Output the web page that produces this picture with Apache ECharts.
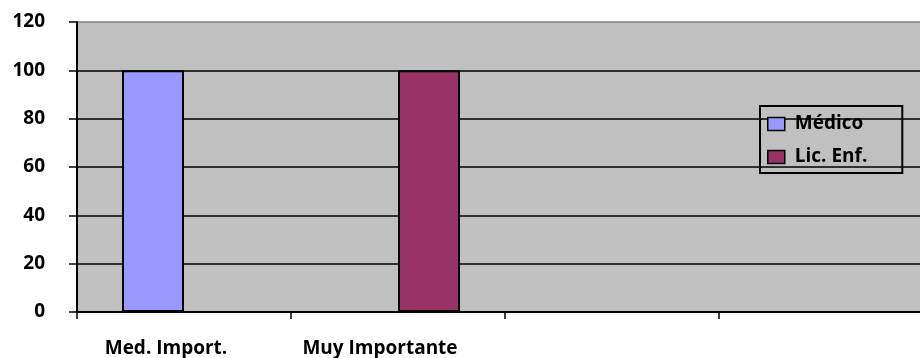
<!DOCTYPE html>
<html>
<head>
<meta charset="utf-8">
<script src="https://cdn.jsdelivr.net/npm/echarts@6/dist/echarts.min.js"></script>
<style>
  html, body { margin: 0; padding: 0; background: #fff; }
  #chart { width: 920px; height: 358px; }
</style>
</head>
<body>
<div id="chart"></div>
<script>
// Categories along the horizontal axis (the last two are unlabeled slots)
const categories = ['Med. Import.', 'Muy Importante', '', ''];
// Series values per category
const medico = [100, null, null, null];
const licEnf = [null, 100, null, null];
// Vertical axis range
const yMin = 0;
const yMax = 120;
const yStep = 20;

const FONT = 'Open Sans';
const chart = echarts.init(document.getElementById('chart'), null, { renderer: 'canvas' });

// gridlines are black, the top edge of the plot is grey
const gridColors = ['#000', '#000', '#000', '#000', '#000', '#000', '#808080'];

chart.setOption({
  animation: false,
  backgroundColor: '#ffffff',
  grid: {
    left: 77, top: 22, bottom: 46, width: 856,
    outerBoundsMode: 'none',
    containLabel: false,
    show: true,
    backgroundColor: '#c0c0c0',
    borderWidth: 0
  },
  legend: {
    orient: 'vertical',
    left: 760, top: 106,
    padding: [8, 35, 6, 7],
    borderColor: '#000',
    borderWidth: 2,
    borderRadius: 0,
    itemWidth: 17, itemHeight: 13,
    itemGap: 13,
    icon: 'rect',
    itemStyle: { borderColor: '#000', borderWidth: 1.5 },
    textStyle: { fontFamily: FONT, fontWeight: 'bold', fontSize: 19, color: '#000', lineHeight: 20, padding: [0, 0, 0, 5] },
    data: ['Médico', 'Lic. Enf.']
  },
  xAxis: {
    type: 'category',
    data: categories,
    boundaryGap: true,
    axisLine: { show: true, lineStyle: { color: '#000', width: 2 } },
    axisTick: { show: true, length: 7, lineStyle: { color: '#000', width: 1.5 } },
    axisLabel: {
      color: '#000', fontFamily: FONT, fontWeight: 'bold', fontSize: 19,
      margin: 27, padding: [0, 36, 0, 0], interval: 0
    },
    splitLine: { show: false }
  },
  yAxis: {
    type: 'value',
    min: yMin, max: yMax, interval: yStep,
    axisLine: { show: true, lineStyle: { color: '#000', width: 2 } },
    axisTick: { show: true, length: 8, lineStyle: { color: '#000', width: 1.5 } },
    axisLabel: { color: '#000', fontFamily: FONT, fontWeight: 'bold', fontSize: 19, margin: 32 },
    splitLine: { show: true, lineStyle: { color: gridColors, width: 1.5 } }
  },
  series: [
    {
      name: 'Médico', type: 'bar', data: medico,
      barWidth: 62, barGap: '0%',
      itemStyle: { color: '#9999ff', borderColor: '#000', borderWidth: 2 }
    },
    {
      name: 'Lic. Enf.', type: 'bar', data: licEnf,
      barWidth: 62, barGap: '0%',
      itemStyle: { color: '#993366', borderColor: '#000', borderWidth: 2 }
    }
  ]
});
</script>
</body>
</html>
